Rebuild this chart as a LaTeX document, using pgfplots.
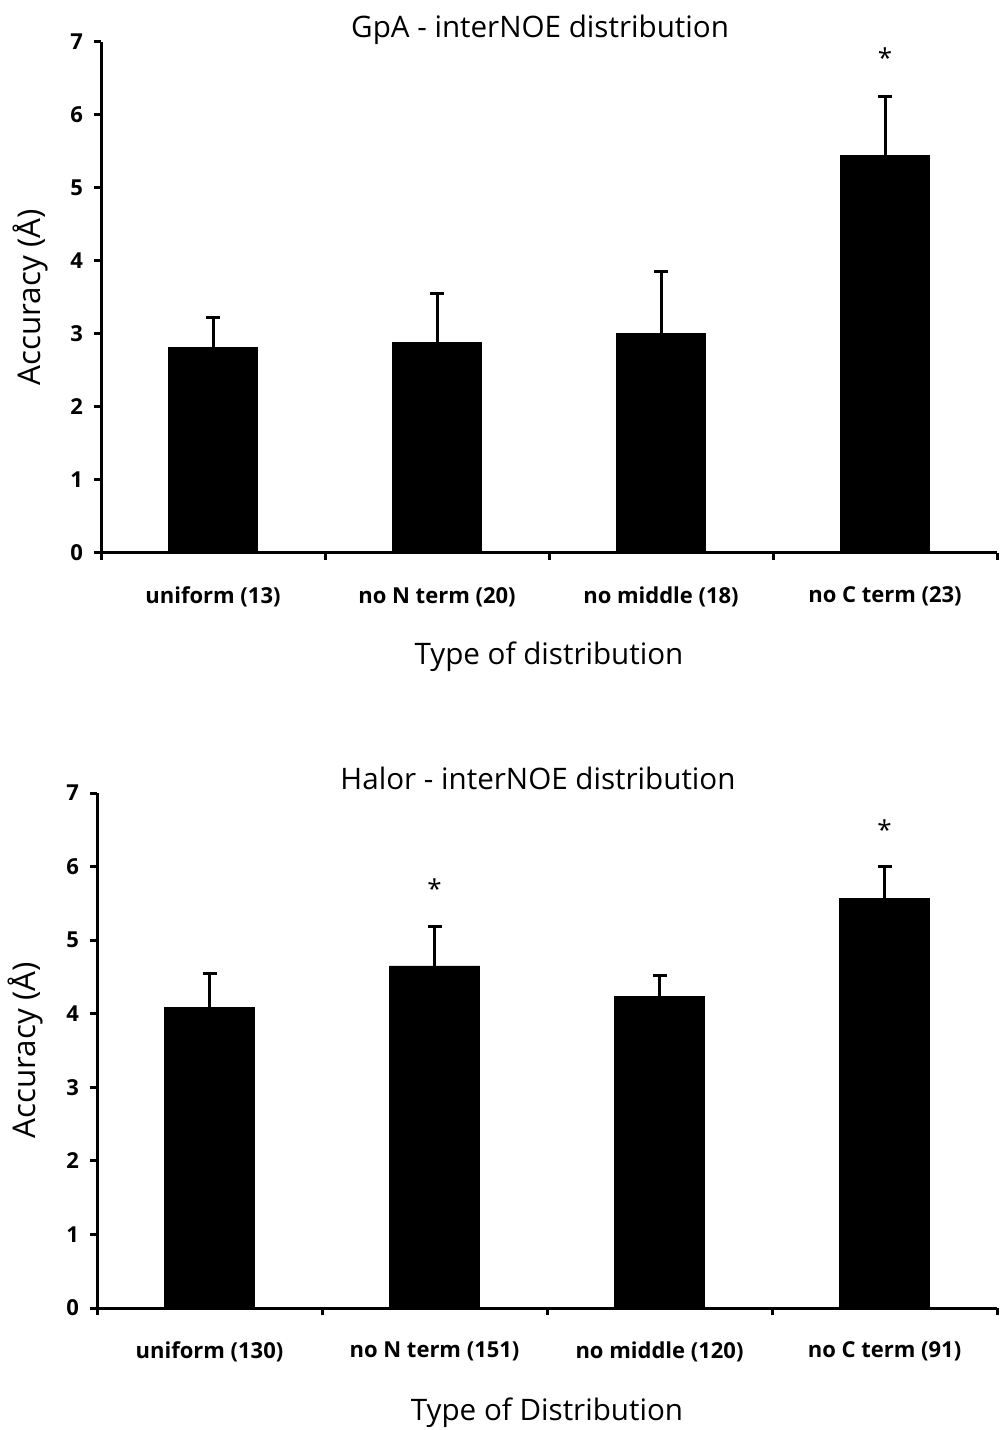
\documentclass[border=0pt]{standalone}
\usepackage{fontspec}
\setmainfont{Open Sans}
\usepackage{pgfplots}
\pgfplotsset{compat=1.18}
\pgfplotsset{
  mystyle/.style={
    scale only axis,
    axis lines=left,
    axis line style={line width=1.5pt,-},
    xmin=0.5, xmax=4.5, ymin=0, ymax=7,
    ytick={0,1,...,7},
    xtick={1,2,3,4},
    minor xtick={0.5,1.5,2.5,3.5,4.5},
    major x tick style={draw=none},
    minor x tick style={line width=1.5pt, black},
    y tick style={line width=1.5pt, black},
    tick align=outside,
    major tick length=3.5pt,
    minor tick length=3.5pt,
    tick label style={font=\bfseries\fontsize{11}{13}\selectfont},
    /pgf/number format/assume math mode=true,
    yticklabel style={xshift=-2pt},
    xticklabel style={yshift=-10pt},
    title style={anchor=center, font=\fontsize{14.8}{17}\selectfont},
    xlabel style={at={(axis description cs:0.5,-0.2035)}, anchor=center, font=\fontsize{14.8}{17}\selectfont},
    ylabel style={at={(axis description cs:-0.079,0.5)}, anchor=center, font=\fontsize{15.7}{18}\selectfont},
    ylabel={Accuracy (Å)},
    clip=false,
  },
  mybar/.style={ybar, bar width=0.4, fill=black, draw=black,
    error bars/.cd, y dir=plus, y explicit, error mark=|,
    error bar style={line width=1.5pt, black},
    error mark options={line width=1.5pt, mark size=3.5pt, black}}
}
\begin{document}
\begin{tikzpicture}
\path[use as bounding box] (0,0) rectangle (500pt,715pt);
\begin{axis}[mystyle, at={(50.5pt,438.5pt)}, anchor=south west,
  width=448pt, height=255.5pt,
  title style={at={(axis description cs:0.49,1.0)}},
  xticklabels={uniform (13), no N term (20), no middle (18), no C term (23)},
  title={GpA - interNOE distribution},
  xlabel={Type of distribution}]
\addplot[mybar] coordinates {
 (1,2.81) +- (0,0.41)
 (2,2.89) +- (0,0.67)
 (3,3.01) +- (0,0.84)
 (4,5.45) +- (0,0.80)
};
\node[font=\fontsize{13}{15}\selectfont] at (axis cs:4,6.78) {*};
\end{axis}
\begin{axis}[mystyle, at={(48.5pt,61pt)}, anchor=south west,
  width=450pt, height=257.5pt,
  title style={at={(axis description cs:0.49,1.005)}},
  xticklabels={uniform (130), no N term (151), no middle (120), no C term (91)},
  title={Halor - interNOE distribution},
  xlabel={Type of Distribution}]
\addplot[mybar] coordinates {
 (1,4.08) +- (0,0.46)
 (2,4.65) +- (0,0.54)
 (3,4.23) +- (0,0.29)
 (4,5.57) +- (0,0.43)
};
\node[font=\fontsize{13}{15}\selectfont] at (axis cs:2,5.7) {*};
\node[font=\fontsize{13}{15}\selectfont] at (axis cs:4,6.5) {*};
\end{axis}
\end{tikzpicture}
\end{document}
